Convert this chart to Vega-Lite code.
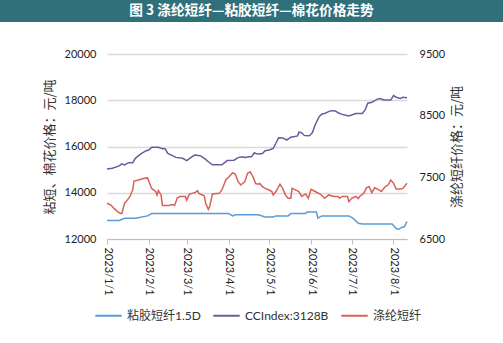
{
  "$schema": "https://vega.github.io/schema/vega-lite/v6.json",
  "padding": 0,
  "background": "white",
  "spacing": 26,
  "config": {
    "font": "Lato",
    "view": {"stroke": null}
  },
  "datasets": {
    "ts": [
      {"d": "2023/1/1", "s": "CCIndex:3128B", "v": 15030},
      {"d": "2023/1/5", "s": "CCIndex:3128B", "v": 15060},
      {"d": "2023/1/10", "s": "CCIndex:3128B", "v": 15160},
      {"d": "2023/1/12", "s": "CCIndex:3128B", "v": 15250},
      {"d": "2023/1/14", "s": "CCIndex:3128B", "v": 15200},
      {"d": "2023/1/17", "s": "CCIndex:3128B", "v": 15300},
      {"d": "2023/1/20", "s": "CCIndex:3128B", "v": 15300},
      {"d": "2023/1/22", "s": "CCIndex:3128B", "v": 15490},
      {"d": "2023/1/26", "s": "CCIndex:3128B", "v": 15680},
      {"d": "2023/1/30", "s": "CCIndex:3128B", "v": 15820},
      {"d": "2023/2/1", "s": "CCIndex:3128B", "v": 15850},
      {"d": "2023/2/3", "s": "CCIndex:3128B", "v": 15970},
      {"d": "2023/2/8", "s": "CCIndex:3128B", "v": 15970},
      {"d": "2023/2/11", "s": "CCIndex:3128B", "v": 15900},
      {"d": "2023/2/13", "s": "CCIndex:3128B", "v": 15900},
      {"d": "2023/2/15", "s": "CCIndex:3128B", "v": 15700},
      {"d": "2023/2/21", "s": "CCIndex:3128B", "v": 15530},
      {"d": "2023/2/26", "s": "CCIndex:3128B", "v": 15490},
      {"d": "2023/3/1", "s": "CCIndex:3128B", "v": 15390},
      {"d": "2023/3/5", "s": "CCIndex:3128B", "v": 15560},
      {"d": "2023/3/7", "s": "CCIndex:3128B", "v": 15630},
      {"d": "2023/3/11", "s": "CCIndex:3128B", "v": 15600},
      {"d": "2023/3/15", "s": "CCIndex:3128B", "v": 15440},
      {"d": "2023/3/17", "s": "CCIndex:3128B", "v": 15340},
      {"d": "2023/3/20", "s": "CCIndex:3128B", "v": 15210},
      {"d": "2023/3/27", "s": "CCIndex:3128B", "v": 15210},
      {"d": "2023/3/31", "s": "CCIndex:3128B", "v": 15390},
      {"d": "2023/4/5", "s": "CCIndex:3128B", "v": 15410},
      {"d": "2023/4/8", "s": "CCIndex:3128B", "v": 15520},
      {"d": "2023/4/11", "s": "CCIndex:3128B", "v": 15560},
      {"d": "2023/4/13", "s": "CCIndex:3128B", "v": 15530},
      {"d": "2023/4/16", "s": "CCIndex:3128B", "v": 15560},
      {"d": "2023/4/18", "s": "CCIndex:3128B", "v": 15560},
      {"d": "2023/4/20", "s": "CCIndex:3128B", "v": 15730},
      {"d": "2023/4/21", "s": "CCIndex:3128B", "v": 15700},
      {"d": "2023/4/23", "s": "CCIndex:3128B", "v": 15680},
      {"d": "2023/4/26", "s": "CCIndex:3128B", "v": 15700},
      {"d": "2023/4/28", "s": "CCIndex:3128B", "v": 15820},
      {"d": "2023/5/1", "s": "CCIndex:3128B", "v": 15850},
      {"d": "2023/5/4", "s": "CCIndex:3128B", "v": 15920},
      {"d": "2023/5/6", "s": "CCIndex:3128B", "v": 16140},
      {"d": "2023/5/8", "s": "CCIndex:3128B", "v": 16380},
      {"d": "2023/5/11", "s": "CCIndex:3128B", "v": 16370},
      {"d": "2023/5/14", "s": "CCIndex:3128B", "v": 16280},
      {"d": "2023/5/17", "s": "CCIndex:3128B", "v": 16400},
      {"d": "2023/5/20", "s": "CCIndex:3128B", "v": 16430},
      {"d": "2023/5/22", "s": "CCIndex:3128B", "v": 16460},
      {"d": "2023/5/23", "s": "CCIndex:3128B", "v": 16620},
      {"d": "2023/5/25", "s": "CCIndex:3128B", "v": 16600},
      {"d": "2023/5/27", "s": "CCIndex:3128B", "v": 16480},
      {"d": "2023/5/29", "s": "CCIndex:3128B", "v": 16460},
      {"d": "2023/5/31", "s": "CCIndex:3128B", "v": 16470},
      {"d": "2023/6/2", "s": "CCIndex:3128B", "v": 16600},
      {"d": "2023/6/4", "s": "CCIndex:3128B", "v": 16930},
      {"d": "2023/6/7", "s": "CCIndex:3128B", "v": 17290},
      {"d": "2023/6/9", "s": "CCIndex:3128B", "v": 17410},
      {"d": "2023/6/11", "s": "CCIndex:3128B", "v": 17430},
      {"d": "2023/6/14", "s": "CCIndex:3128B", "v": 17510},
      {"d": "2023/6/16", "s": "CCIndex:3128B", "v": 17550},
      {"d": "2023/6/19", "s": "CCIndex:3128B", "v": 17540},
      {"d": "2023/6/21", "s": "CCIndex:3128B", "v": 17460},
      {"d": "2023/6/24", "s": "CCIndex:3128B", "v": 17390},
      {"d": "2023/6/26", "s": "CCIndex:3128B", "v": 17360},
      {"d": "2023/6/29", "s": "CCIndex:3128B", "v": 17320},
      {"d": "2023/7/1", "s": "CCIndex:3128B", "v": 17360},
      {"d": "2023/7/4", "s": "CCIndex:3128B", "v": 17430},
      {"d": "2023/7/9", "s": "CCIndex:3128B", "v": 17430},
      {"d": "2023/7/11", "s": "CCIndex:3128B", "v": 17580},
      {"d": "2023/7/13", "s": "CCIndex:3128B", "v": 17870},
      {"d": "2023/7/16", "s": "CCIndex:3128B", "v": 17910},
      {"d": "2023/7/20", "s": "CCIndex:3128B", "v": 18050},
      {"d": "2023/7/22", "s": "CCIndex:3128B", "v": 18070},
      {"d": "2023/7/25", "s": "CCIndex:3128B", "v": 18010},
      {"d": "2023/7/30", "s": "CCIndex:3128B", "v": 18010},
      {"d": "2023/8/1", "s": "CCIndex:3128B", "v": 18200},
      {"d": "2023/8/3", "s": "CCIndex:3128B", "v": 18130},
      {"d": "2023/8/6", "s": "CCIndex:3128B", "v": 18080},
      {"d": "2023/8/8", "s": "CCIndex:3128B", "v": 18130},
      {"d": "2023/8/11", "s": "CCIndex:3128B", "v": 18110},

      {"d": "2023/1/1", "s": "粘胶短纤1.5D", "v": 12800},
      {"d": "2023/1/10", "s": "粘胶短纤1.5D", "v": 12800},
      {"d": "2023/1/14", "s": "粘胶短纤1.5D", "v": 12900},
      {"d": "2023/1/22", "s": "粘胶短纤1.5D", "v": 12900},
      {"d": "2023/1/31", "s": "粘胶短纤1.5D", "v": 13000},
      {"d": "2023/2/3", "s": "粘胶短纤1.5D", "v": 13100},
      {"d": "2023/3/30", "s": "粘胶短纤1.5D", "v": 13100},
      {"d": "2023/4/1", "s": "粘胶短纤1.5D", "v": 13100},
      {"d": "2023/4/4", "s": "粘胶短纤1.5D", "v": 13000},
      {"d": "2023/4/6", "s": "粘胶短纤1.5D", "v": 13050},
      {"d": "2023/4/23", "s": "粘胶短纤1.5D", "v": 13050},
      {"d": "2023/4/28", "s": "粘胶短纤1.5D", "v": 12950},
      {"d": "2023/5/4", "s": "粘胶短纤1.5D", "v": 12950},
      {"d": "2023/5/6", "s": "粘胶短纤1.5D", "v": 13000},
      {"d": "2023/5/15", "s": "粘胶短纤1.5D", "v": 13000},
      {"d": "2023/5/17", "s": "粘胶短纤1.5D", "v": 13100},
      {"d": "2023/5/28", "s": "粘胶短纤1.5D", "v": 13100},
      {"d": "2023/5/29", "s": "粘胶短纤1.5D", "v": 13170},
      {"d": "2023/6/5", "s": "粘胶短纤1.5D", "v": 13170},
      {"d": "2023/6/6", "s": "粘胶短纤1.5D", "v": 12900},
      {"d": "2023/6/9", "s": "粘胶短纤1.5D", "v": 13000},
      {"d": "2023/6/29", "s": "粘胶短纤1.5D", "v": 13000},
      {"d": "2023/7/2", "s": "粘胶短纤1.5D", "v": 12900},
      {"d": "2023/7/6", "s": "粘胶短纤1.5D", "v": 12680},
      {"d": "2023/7/9", "s": "粘胶短纤1.5D", "v": 12650},
      {"d": "2023/7/31", "s": "粘胶短纤1.5D", "v": 12650},
      {"d": "2023/8/3", "s": "粘胶短纤1.5D", "v": 12450},
      {"d": "2023/8/5", "s": "粘胶短纤1.5D", "v": 12420},
      {"d": "2023/8/7", "s": "粘胶短纤1.5D", "v": 12500},
      {"d": "2023/8/9", "s": "粘胶短纤1.5D", "v": 12530},
      {"d": "2023/8/11", "s": "粘胶短纤1.5D", "v": 12750}
    ],
    "red": [
      {"d": "2023/1/1", "s": "涤纶短纤", "v": 7080},
      {"d": "2023/1/4", "s": "涤纶短纤", "v": 7050},
      {"d": "2023/1/6", "s": "涤纶短纤", "v": 7000},
      {"d": "2023/1/9", "s": "涤纶短纤", "v": 6940},
      {"d": "2023/1/11", "s": "涤纶短纤", "v": 6915},
      {"d": "2023/1/12", "s": "涤纶短纤", "v": 6915},
      {"d": "2023/1/14", "s": "涤纶短纤", "v": 7080},
      {"d": "2023/1/16", "s": "涤纶短纤", "v": 7130},
      {"d": "2023/1/18", "s": "涤纶短纤", "v": 7190},
      {"d": "2023/1/20", "s": "涤纶短纤", "v": 7295},
      {"d": "2023/1/21", "s": "涤纶短纤", "v": 7440},
      {"d": "2023/1/25", "s": "涤纶短纤", "v": 7460},
      {"d": "2023/1/28", "s": "涤纶短纤", "v": 7480},
      {"d": "2023/1/31", "s": "涤纶短纤", "v": 7490},
      {"d": "2023/2/2", "s": "涤纶短纤", "v": 7375},
      {"d": "2023/2/3", "s": "涤纶短纤", "v": 7320},
      {"d": "2023/2/6", "s": "涤纶短纤", "v": 7270},
      {"d": "2023/2/7", "s": "涤纶短纤", "v": 7215},
      {"d": "2023/2/8", "s": "涤纶短纤", "v": 7285},
      {"d": "2023/2/10", "s": "涤纶短纤", "v": 7215},
      {"d": "2023/2/11", "s": "涤纶短纤", "v": 7045},
      {"d": "2023/2/16", "s": "涤纶短纤", "v": 7045},
      {"d": "2023/2/18", "s": "涤纶短纤", "v": 7060},
      {"d": "2023/2/20", "s": "涤纶短纤", "v": 7045},
      {"d": "2023/2/22", "s": "涤纶短纤", "v": 7165},
      {"d": "2023/2/24", "s": "涤纶短纤", "v": 7190},
      {"d": "2023/2/28", "s": "涤纶短纤", "v": 7190},
      {"d": "2023/3/1", "s": "涤纶短纤", "v": 7130},
      {"d": "2023/3/3", "s": "涤纶短纤", "v": 7230},
      {"d": "2023/3/5", "s": "涤纶短纤", "v": 7240},
      {"d": "2023/3/7", "s": "涤纶短纤", "v": 7250},
      {"d": "2023/3/9", "s": "涤纶短纤", "v": 7285},
      {"d": "2023/3/10", "s": "涤纶短纤", "v": 7240},
      {"d": "2023/3/14", "s": "涤纶短纤", "v": 7200},
      {"d": "2023/3/15", "s": "涤纶短纤", "v": 7080},
      {"d": "2023/3/17", "s": "涤纶短纤", "v": 6980},
      {"d": "2023/3/18", "s": "涤纶短纤", "v": 7025},
      {"d": "2023/3/20", "s": "涤纶短纤", "v": 7230},
      {"d": "2023/3/25", "s": "涤纶短纤", "v": 7240},
      {"d": "2023/3/27", "s": "涤纶短纤", "v": 7295},
      {"d": "2023/3/30", "s": "涤纶短纤", "v": 7460},
      {"d": "2023/4/1", "s": "涤纶短纤", "v": 7500},
      {"d": "2023/4/4", "s": "涤纶短纤", "v": 7575},
      {"d": "2023/4/6", "s": "涤纶短纤", "v": 7550},
      {"d": "2023/4/8", "s": "涤纶短纤", "v": 7430},
      {"d": "2023/4/10", "s": "涤纶短纤", "v": 7375},
      {"d": "2023/4/13", "s": "涤纶短纤", "v": 7430},
      {"d": "2023/4/15", "s": "涤纶短纤", "v": 7565},
      {"d": "2023/4/17", "s": "涤纶短纤", "v": 7590},
      {"d": "2023/4/19", "s": "涤纶短纤", "v": 7510},
      {"d": "2023/4/21", "s": "涤纶短纤", "v": 7400},
      {"d": "2023/4/23", "s": "涤纶短纤", "v": 7390},
      {"d": "2023/4/24", "s": "涤纶短纤", "v": 7400},
      {"d": "2023/4/26", "s": "涤纶短纤", "v": 7350},
      {"d": "2023/4/28", "s": "涤纶短纤", "v": 7320},
      {"d": "2023/5/1", "s": "涤纶短纤", "v": 7295},
      {"d": "2023/5/3", "s": "涤纶短纤", "v": 7270},
      {"d": "2023/5/4", "s": "涤纶短纤", "v": 7215},
      {"d": "2023/5/6", "s": "涤纶短纤", "v": 7270},
      {"d": "2023/5/9", "s": "涤纶短纤", "v": 7390},
      {"d": "2023/5/11", "s": "涤纶短纤", "v": 7320},
      {"d": "2023/5/13", "s": "涤纶短纤", "v": 7215},
      {"d": "2023/5/15", "s": "涤纶短纤", "v": 7160},
      {"d": "2023/5/17", "s": "涤纶短纤", "v": 7160},
      {"d": "2023/5/18", "s": "涤纶短纤", "v": 7320},
      {"d": "2023/5/20", "s": "涤纶短纤", "v": 7300},
      {"d": "2023/5/23", "s": "涤纶短纤", "v": 7270},
      {"d": "2023/5/25", "s": "涤纶短纤", "v": 7190},
      {"d": "2023/5/28", "s": "涤纶短纤", "v": 7230},
      {"d": "2023/5/30", "s": "涤纶短纤", "v": 7160},
      {"d": "2023/6/1", "s": "涤纶短纤", "v": 7305},
      {"d": "2023/6/4", "s": "涤纶短纤", "v": 7270},
      {"d": "2023/6/8", "s": "涤纶短纤", "v": 7225},
      {"d": "2023/6/11", "s": "涤纶短纤", "v": 7160},
      {"d": "2023/6/14", "s": "涤纶短纤", "v": 7215},
      {"d": "2023/6/18", "s": "涤纶短纤", "v": 7190},
      {"d": "2023/6/21", "s": "涤纶短纤", "v": 7190},
      {"d": "2023/6/22", "s": "涤纶短纤", "v": 7160},
      {"d": "2023/6/24", "s": "涤纶短纤", "v": 7190},
      {"d": "2023/6/28", "s": "涤纶短纤", "v": 7190},
      {"d": "2023/6/29", "s": "涤纶短纤", "v": 7105},
      {"d": "2023/7/1", "s": "涤纶短纤", "v": 7160},
      {"d": "2023/7/4", "s": "涤纶短纤", "v": 7190},
      {"d": "2023/7/6", "s": "涤纶短纤", "v": 7155},
      {"d": "2023/7/7", "s": "涤纶短纤", "v": 7190},
      {"d": "2023/7/10", "s": "涤纶短纤", "v": 7240},
      {"d": "2023/7/12", "s": "涤纶短纤", "v": 7330},
      {"d": "2023/7/14", "s": "涤纶短纤", "v": 7350},
      {"d": "2023/7/16", "s": "涤纶短纤", "v": 7250},
      {"d": "2023/7/18", "s": "涤纶短纤", "v": 7330},
      {"d": "2023/7/21", "s": "涤纶短纤", "v": 7300},
      {"d": "2023/7/23", "s": "涤纶短纤", "v": 7270},
      {"d": "2023/7/26", "s": "涤纶短纤", "v": 7350},
      {"d": "2023/7/28", "s": "涤纶短纤", "v": 7375},
      {"d": "2023/7/30", "s": "涤纶短纤", "v": 7455},
      {"d": "2023/8/1", "s": "涤纶短纤", "v": 7405},
      {"d": "2023/8/3", "s": "涤纶短纤", "v": 7310},
      {"d": "2023/8/6", "s": "涤纶短纤", "v": 7310},
      {"d": "2023/8/8", "s": "涤纶短纤", "v": 7320},
      {"d": "2023/8/11", "s": "涤纶短纤", "v": 7405}
    ]
  },
  "vconcat": [
    {
      "width": 503,
      "height": 22,
      "view": {"fill": "#2F707A", "stroke": null},
      "data": {"values": [{"t": "图 3 涤纶短纤—粘胶短纤—棉花价格走势"}]},
      "mark": {"type": "text", "color": "white", "fontWeight": "bold", "fontSize": 13.7, "font": "Noto Sans CJK SC"},
      "encoding": {"text": {"field": "t", "type": "nominal"}}
    },
    {
      "spacing": 0,
      "hconcat": [
        {
          "width": 43,
          "height": 10,
          "data": {"values": [{"t": ""}]},
          "mark": {"type": "text"},
          "encoding": {"text": {"field": "t", "type": "nominal"}}
        },
        {
          "width": 300,
          "height": 185,
          "layer": [
            {
              "data": {"name": "ts"},
              "mark": {"type": "line", "strokeWidth": 1.5},
              "encoding": {
                "x": {
                  "field": "d", "type": "temporal",
                  "scale": {"domain": ["2023/1/1", "2023/8/11"], "nice": false},
                  "axis": {
                    "title": null, "format": "%Y/%-m/%-d", "labelAngle": 90,
                    "tickCount": {"interval": "month", "step": 1},
                    "grid": false, "domainColor": "#bfbfbf", "tickColor": "#bfbfbf", "tickSize": 5,
                    "labelFont": "Lato", "labelFontSize": 11, "labelColor": "#222", "labelPadding": 3
                  }
                },
                "y": {
                  "field": "v", "type": "quantitative",
                  "scale": {"domain": [12000, 20000], "nice": false, "zero": false},
                  "axis": {
                    "title": "粘短、棉花价格：元/吨", "values": [12000, 14000, 16000, 18000, 20000], "format": "d",
                    "domain": false, "ticks": false, "grid": true, "gridColor": "#d9d9d9", "gridWidth": 1.5,
                    "labelFont": "Lato", "labelFontSize": 11, "labelColor": "#222", "labelPadding": 11,
                    "titleFont": "Noto Sans CJK SC", "titleFontWeight": "normal", "titleFontSize": 13, "titleColor": "#333", "titlePadding": 8
                  }
                },
                "color": {
                  "field": "s", "type": "nominal",
                  "scale": {"domain": ["粘胶短纤1.5D", "CCIndex:3128B", "涤纶短纤"], "range": ["#5B9BD5", "#6A5C9C", "#D9605A"]},
                  "legend": {
                    "title": null, "orient": "none", "legendX": 94, "legendY": 301, "direction": "horizontal", "symbolType": "stroke",
                    "symbolStrokeWidth": 2, "symbolSize": 700, "labelFont": "Lato, 'Noto Sans CJK SC'", "labelFontSize": 12, "labelColor": "#333",
                    "labelOffset": 4, "columnPadding": 8
                  }
                }
              }
            },
            {
              "data": {"name": "red"},
              "mark": {"type": "line", "strokeWidth": 1.5},
              "encoding": {
                "x": {"field": "d", "type": "temporal"},
                "y": {
                  "field": "v", "type": "quantitative",
                  "scale": {"domain": [6500, 9500], "nice": false, "zero": false},
                  "axis": {
                    "orient": "right", "title": "涤纶短纤价格：元/吨", "values": [6500, 7500, 8500, 9500], "format": "d",
                    "domain": false, "ticks": false, "grid": false,
                    "labelFont": "Lato", "labelFontSize": 11, "labelColor": "#222", "labelPadding": 12,
                    "titleFont": "Noto Sans CJK SC", "titleFontWeight": "normal", "titleFontSize": 13, "titleColor": "#333", "titlePadding": 6, "titleAngle": -90, "titleBaseline": "top"
                  }
                },
                "color": {"field": "s", "type": "nominal"}
              }
            }
          ],
          "resolve": {"scale": {"y": "independent"}}
        }
      ]
    }
  ]
}
